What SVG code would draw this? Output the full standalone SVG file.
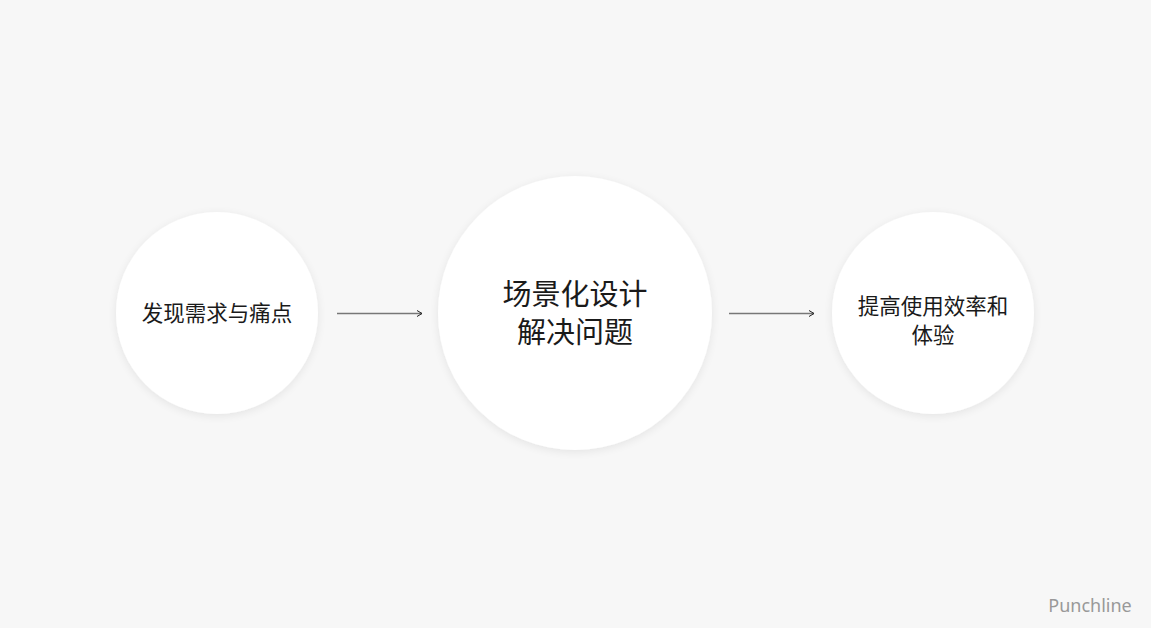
<svg xmlns="http://www.w3.org/2000/svg" width="1151" height="628" viewBox="0 0 1151 628">
<defs>
<filter id="sh" x="-20%" y="-20%" width="140%" height="140%">
<feGaussianBlur in="SourceAlpha" stdDeviation="5"/>
<feOffset dx="0" dy="2"/>
<feComponentTransfer><feFuncA type="linear" slope="0.08"/></feComponentTransfer>
<feMerge><feMergeNode/><feMergeNode in="SourceGraphic"/></feMerge>
</filter>
<marker id="arr" markerWidth="8" markerHeight="8" refX="6" refY="4" orient="auto" markerUnits="userSpaceOnUse">
<path d="M1,1 L6,4 L1,7" fill="none" stroke="#222" stroke-width="1"/>
</marker>
</defs>
<style>
.c{fill:#fff;filter:url(#sh)}
.t{font-family:"Noto Sans CJK SC","Noto Sans",sans-serif;fill:#1a1a1a;text-anchor:middle}
.s{font-size:21.5px}
.l{font-size:29px}
.a{stroke:#777;stroke-width:1.3;fill:none;marker-end:url(#arr)}
</style>
<rect width="1151" height="628" fill="#f7f7f7"/>
<g id="n1">
<circle class="c" cx="217" cy="313" r="101"/>
<text class="t s" x="217" y="321">发现需求与痛点</text>
</g>
<g id="n2">
<circle class="c" cx="575" cy="313" r="137"/>
<text class="t l" x="575" y="305">场景化设计</text>
<text class="t l" x="575" y="343">解决问题</text>
</g>
<g id="n3">
<circle class="c" cx="933" cy="313" r="101"/>
<text class="t s" x="933" y="314">提高使用效率和</text>
<text class="t s" x="933" y="343">体验</text>
</g>
<g id="connectors">
<line class="a" x1="337" y1="313.5" x2="422" y2="313.5"/>
<line class="a" x1="729" y1="313.5" x2="814" y2="313.5"/>
</g>
<text x="1090" y="612" font-family="'Noto Sans',sans-serif" font-size="18" fill="#999" text-anchor="middle">Punchline</text>
</svg>
